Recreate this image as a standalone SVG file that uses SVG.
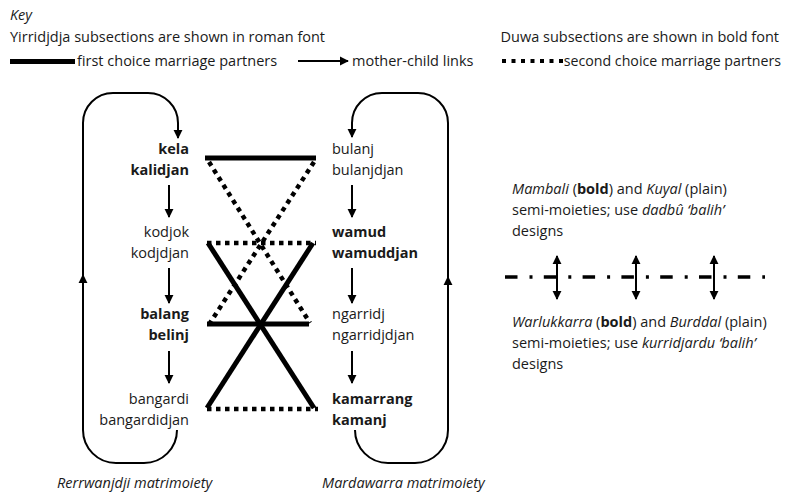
<svg xmlns="http://www.w3.org/2000/svg" width="790" height="495" viewBox="0 0 790 495">
<style>
text{font-family:"Open Sans","Liberation Sans",sans-serif;font-size:14.5px;fill:#1a1a1a}
.b{font-weight:bold}
.i{font-style:italic}
.e{text-anchor:end}
.thin{fill:none;stroke:#000;stroke-width:2}
.solid{fill:none;stroke:#000;stroke-width:5}
.dot{fill:none;stroke:#000;stroke-width:4.5;stroke-dasharray:4.5 4.5}
</style>
<defs>
<marker id="ah" viewBox="0 0 10 10" refX="9" refY="5" markerWidth="9" markerHeight="10" markerUnits="userSpaceOnUse" orient="auto-start-reverse"><path d="M0,0 L10,5 L0,10 z" fill="#000"/></marker>
</defs>
<rect width="790" height="495" fill="#fff"/>

<g id="key">
<text x="10" y="20" class="i">Key</text>
<text x="10" y="42">Yirridjdja subsections are shown in roman font</text>
<text x="779" y="42" class="e">Duwa subsections are shown in bold font</text>
<line x1="10" y1="61.5" x2="75" y2="61.5" class="solid"/>
<text x="77" y="66">first choice marriage partners</text>
<line x1="298" y1="61" x2="348" y2="61" class="thin" marker-end="url(#ah)"/>
<text x="352" y="66">mother-child links</text>
<line x1="502" y1="61" x2="563" y2="61" stroke="#000" stroke-width="4" stroke-dasharray="4 5.5"/>
<text x="781" y="66" class="e" style="font-size:14.2px">second choice marriage partners</text>
</g>

<g id="kela"><text x="189" y="154" class="b e">kela</text><text x="189" y="175" class="b e">kalidjan</text></g>
<g id="kodjok"><text x="189" y="237" class="e">kodjok</text><text x="189" y="258" class="e">kodjdjan</text></g>
<g id="balang"><text x="189" y="319" class="b e">balang</text><text x="189" y="340" class="b e">belinj</text></g>
<g id="bangardi"><text x="189" y="404" class="e">bangardi</text><text x="189" y="425" class="e">bangardidjan</text></g>

<g id="bulanj"><text x="332" y="154">bulanj</text><text x="332" y="175">bulanjdjan</text></g>
<g id="wamud"><text x="332" y="237" class="b">wamud</text><text x="332" y="258" class="b">wamuddjan</text></g>
<g id="ngarridj"><text x="332" y="319">ngarridj</text><text x="332" y="340">ngarridjdjan</text></g>
<g id="kamarrang"><text x="332" y="404" class="b">kamarrang</text><text x="332" y="425" class="b">kamanj</text></g>

<g id="connectors">
<line x1="169" y1="185" x2="169" y2="217" class="thin" marker-end="url(#ah)"/>
<line x1="169" y1="268" x2="169" y2="303" class="thin" marker-end="url(#ah)"/>
<line x1="169" y1="351" x2="169" y2="383" class="thin" marker-end="url(#ah)"/>
<line x1="352" y1="185" x2="352" y2="217" class="thin" marker-end="url(#ah)"/>
<line x1="352" y1="268" x2="352" y2="303" class="thin" marker-end="url(#ah)"/>
<line x1="352" y1="351" x2="352" y2="383" class="thin" marker-end="url(#ah)"/>

<path d="M177,430 A33,33 0 0 1 144,463 H116 A33,33 0 0 1 83,430 V275" class="thin" marker-end="url(#ah)"/>
<path d="M83,276 V123 A30,30 0 0 1 113,93 H148 A30,30 0 0 1 178,123 V138" class="thin" marker-end="url(#ah)"/>
<path d="M355,430 A33,33 0 0 0 388,463 H415 A33,33 0 0 0 448,430 V277" class="thin" marker-end="url(#ah)"/>
<path d="M448,278 V123 A30,30 0 0 0 418,93 H382 A30,30 0 0 0 352,123 V137" class="thin" marker-end="url(#ah)"/>

<line x1="205" y1="158" x2="316" y2="158" class="solid"/>
<line x1="207" y1="324" x2="309" y2="324" class="solid"/>
<line x1="208" y1="243" x2="314" y2="408" class="solid"/>
<line x1="313" y1="243" x2="207" y2="408" class="solid"/>
<line x1="207" y1="243" x2="316" y2="243" class="dot"/>
<line x1="207" y1="409" x2="318" y2="409" class="dot"/>
<line x1="209" y1="162" x2="310" y2="323" class="dot"/>
<line x1="314" y1="162" x2="210" y2="323" class="dot"/>
</g>

<g id="semimoieties">
<text x="512" y="194"><tspan class="i">Mambali</tspan> (<tspan class="b">bold</tspan>) and <tspan class="i">Kuyal</tspan> (plain)</text>
<text x="512" y="215">semi-moieties; use <tspan class="i">dadbû ‘balih’</tspan></text>
<text x="512" y="236">designs</text>
<line x1="505" y1="277" x2="765" y2="277" stroke="#000" stroke-width="3.5" stroke-dasharray="12.5 12 3 11.3"/>
<line x1="557" y1="256" x2="557" y2="299" class="thin" marker-start="url(#ah)" marker-end="url(#ah)"/>
<line x1="636" y1="256" x2="636" y2="299" class="thin" marker-start="url(#ah)" marker-end="url(#ah)"/>
<line x1="714" y1="256" x2="714" y2="299" class="thin" marker-start="url(#ah)" marker-end="url(#ah)"/>
<text x="512" y="327"><tspan class="i">Warlukkarra</tspan> (<tspan class="b">bold</tspan>) and <tspan class="i">Burddal</tspan> (plain)</text>
<text x="512" y="348">semi-moieties; use <tspan class="i">kurridjardu ‘balih’</tspan></text>
<text x="512" y="369">designs</text>
</g>

<g id="captions">
<text x="57" y="488" class="i">Rerrwanjdji matrimoiety</text>
<text x="322" y="488" class="i">Mardawarra matrimoiety</text>
</g>
</svg>
